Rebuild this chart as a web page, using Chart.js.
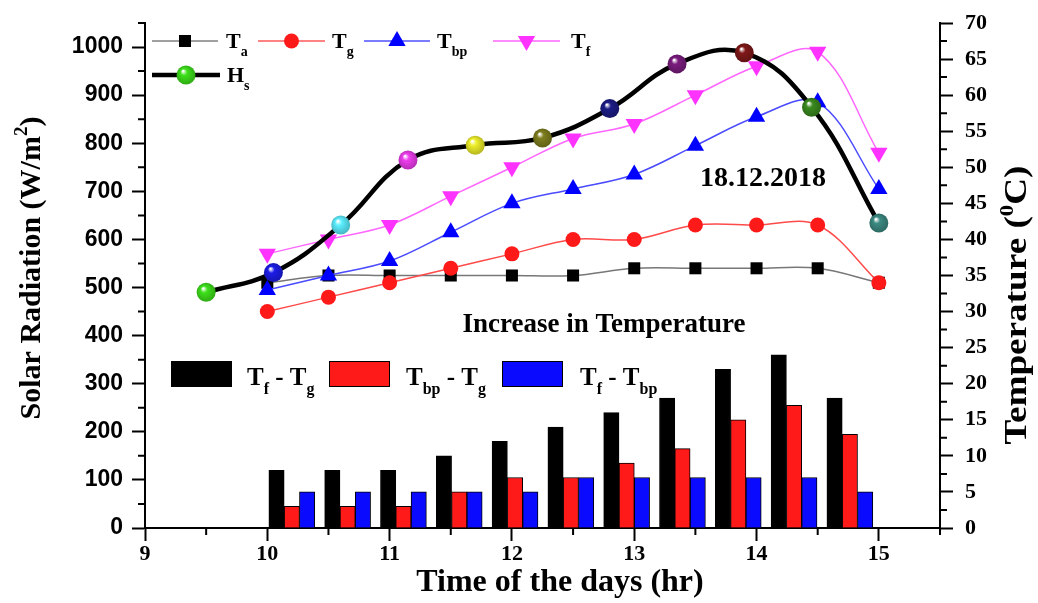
<!DOCTYPE html>
<html><head><meta charset="utf-8">
<script src="https://cdn.jsdelivr.net/npm/chart.js@4.4.1/dist/chart.umd.min.js"></script>
<style>html,body{margin:0;padding:0;background:#fff;overflow:hidden}#wrap{width:1038px;height:603px}</style>
</head><body><div id="wrap"><canvas id="c" width="1038" height="603"></canvas></div>
<script>
// ---- data ----
const times = [10, 10.5, 11, 11.5, 12, 12.5, 13, 13.5, 14, 14.5, 15];
const Ta  = [34, 35, 35, 35, 35, 35, 36, 36, 36, 36, 34];
const Tg  = [30, 32, 34, 36, 38, 40, 40, 42, 42, 42, 34];
const Tbp = [33, 35, 37, 41, 45, 47, 49, 53, 57, 59, 47];
const Tf  = [38, 40, 42, 46, 50, 54, 56, 60, 64, 66, 52];
const dTfTg  = [8, 8, 8, 10, 12, 14, 16, 18, 22, 24, 18];
const dTbpTg = [3, 3, 3, 5, 7, 7, 9, 11, 15, 17, 13];
const dTfTbp = [5, 5, 5, 5, 5, 7, 7, 7, 7, 7, 5];
const hsTimes = [9.5, 10.05, 10.6, 11.15, 11.7, 12.25, 12.8, 13.35, 13.9, 14.45, 15];
const Hs = [490, 531, 630, 765, 796, 811, 872, 965, 988, 875, 634];
const hsColors = ['#3de01a', '#1c1ce8', '#5ceeff', '#ee3cee', '#eeee2a', '#7e7e1e', '#1c1c86', '#7a1c7e', '#801818', '#3a8a1e', '#3c8a82'];
const xTicks = [9, 10, 11, 12, 13, 14, 15];
const yTicks = [0, 100, 200, 300, 400, 500, 600, 700, 800, 900, 1000];
const y2Ticks = [0, 5, 10, 15, 20, 25, 30, 35, 40, 45, 50, 55, 60, 65, 70];

const SERIF = '"Liberation Serif","Times New Roman",serif';
const SANS = '"Liberation Sans",Arial,sans-serif';

function darken(hex, f) {
  const n = parseInt(hex.slice(1), 16);
  const r = Math.round(((n >> 16) & 255) * f), g = Math.round(((n >> 8) & 255) * f), b = Math.round((n & 255) * f);
  return `rgb(${r},${g},${b})`;
}
function ballFill(c) {
  const base = hsColors[c.dataIndex];
  const ch = c.chart;
  if (!c.parsed || !ch.scales.x || !ch.scales.y) return base;
  const px = ch.scales.x.getPixelForValue(c.parsed.x), py = ch.scales.y.getPixelForValue(c.parsed.y);
  if (!isFinite(px) || !isFinite(py)) return base;
  const g = ch.ctx.createRadialGradient(px - 3, py - 4, 0.5, px, py, 10);
  g.addColorStop(0, '#ffffff');
  g.addColorStop(0.3, base);
  g.addColorStop(1, darken(base, 0.75));
  return g;
}

const xy = (xs, ys) => xs.map((x, i) => ({x, y: ys[i]}));

function rich(ctx, x, y, parts, size, align) {
  const sub = Math.round(size * 0.62);
  let total = 0;
  parts.forEach(p => { ctx.font = `bold ${p[1] ? sub : size}px ${SERIF}`; p.w = ctx.measureText(p[0]).width; total += p.w; });
  let cx = align === 'center' ? x - total / 2 : x;
  ctx.textAlign = 'left'; ctx.textBaseline = 'alphabetic';
  parts.forEach(p => {
    ctx.font = `bold ${p[1] ? sub : size}px ${SERIF}`;
    const dy = p[1] === 1 ? size * 0.36 : (p[1] === 2 ? -size * 0.42 : 0);
    ctx.fillText(p[0], cx, y + dy);
    cx += p.w;
  });
}

const deco = {
  id: 'deco',
  afterDraw(chart) {
    const ctx = chart.ctx, sx = chart.scales.x, sy = chart.scales.y, sy2 = chart.scales.y2;
    const ca = chart.chartArea;
    ctx.save();
    ctx.strokeStyle = '#000'; ctx.lineWidth = 2;
    // minor ticks
    ctx.beginPath();
    for (let v = 9.5; v <= 15.5; v += 1) { const p = sx.getPixelForValue(v); ctx.moveTo(p, ca.bottom); ctx.lineTo(p, ca.bottom + 7); }
    for (let v = 50; v <= 1050; v += 100) { const p = sy.getPixelForValue(v); ctx.moveTo(ca.left, p); ctx.lineTo(ca.left - 7, p); }
    for (let v = 2.5; v <= 70; v += 5) { const p = sy2.getPixelForValue(v); ctx.moveTo(ca.right, p); ctx.lineTo(ca.right + 7, p); }
    ctx.stroke();
    ctx.fillStyle = '#000';
    // axis titles
    ctx.save(); ctx.translate(40, 268); ctx.rotate(-Math.PI / 2);
    rich(ctx, 0, 0, [['Solar Radiation (W/m', 0], ['2', 2], [')', 0]], 30, 'center');
    ctx.restore();
    ctx.save(); ctx.translate(1026, 305); ctx.rotate(-Math.PI / 2); ctx.scale(1.2, 1);
    rich(ctx, 0, 0, [['Temperature (', 0], ['0', 2], ['C)', 0]], 31, 'center');
    ctx.restore();
    rich(ctx, 560, 591, [['Time of the days (hr)', 0]], 32, 'center');
    // annotations
    rich(ctx, 763, 186, [['18.12.2018', 0]], 28, 'center');
    rich(ctx, 604, 332, [['Increase in Temperature', 0]], 27, 'center');
    // top legend
    const drawP = Chart.helpers.drawPoint;
    const lg = [
      {x1: 152, x2: 218, y: 41, lc: '#808080', lw: 1.5, pt: {pointStyle: 'rect', radius: 8.5, rotation: 0, borderWidth: 0}, pc: '#000', tx: 226, parts: [['T', 0], ['a', 1]]},
      {x1: 258, x2: 325, y: 41, lc: '#ff5a5a', lw: 1.5, pt: {pointStyle: 'circle', radius: 7.5, rotation: 0, borderWidth: 0}, pc: '#ff1a1a', tx: 332, parts: [['T', 0], ['g', 1]]},
      {x1: 364, x2: 430, y: 41, lc: '#5050ff', lw: 1.5, pt: {pointStyle: 'triangle', radius: 10, rotation: 0, borderWidth: 0}, pc: '#0000ff', tx: 437, parts: [['T', 0], ['bp', 1]]},
      {x1: 493, x2: 560, y: 41, lc: '#ff66ff', lw: 1.5, pt: {pointStyle: 'triangle', radius: 10, rotation: 180, borderWidth: 0}, pc: '#ff33ff', tx: 571, parts: [['T', 0], ['f', 1]]}
    ];
    lg.forEach(l => {
      ctx.strokeStyle = l.lc; ctx.lineWidth = l.lw;
      ctx.beginPath(); ctx.moveTo(l.x1, l.y); ctx.lineTo(l.x2, l.y); ctx.stroke();
      ctx.fillStyle = l.pc; ctx.strokeStyle = l.pc;
      drawP(ctx, l.pt, (l.x1 + l.x2) / 2, l.y);
      ctx.fillStyle = '#000';
      rich(ctx, l.tx, 48, l.parts, 22, 'left');
    });
    ctx.strokeStyle = '#000'; ctx.lineWidth = 4.5;
    ctx.beginPath(); ctx.moveTo(152, 75); ctx.lineTo(220, 75); ctx.stroke();
    const g = ctx.createRadialGradient(183, 71, 0.5, 186, 75, 10);
    g.addColorStop(0, '#ffffff'); g.addColorStop(0.3, hsColors[0]); g.addColorStop(1, darken(hsColors[0], 0.75));
    ctx.fillStyle = g; ctx.beginPath(); ctx.arc(186, 75, 9.5, 0, Math.PI * 2); ctx.fill();
    ctx.fillStyle = '#000';
    rich(ctx, 227, 82, [['H', 0], ['s', 1]], 22, 'left');
    // bar legend
    const bl = [
      {x: 171, c: '#000000', tx: 247, parts: [['T', 0], ['f', 1], [' - ', 0], ['T', 0], ['g', 1]]},
      {x: 329, c: '#ff1a1a', tx: 406, parts: [['T', 0], ['bp', 1], [' - ', 0], ['T', 0], ['g', 1]]},
      {x: 502, c: '#0a0aff', tx: 580, parts: [['T', 0], ['f', 1], [' - ', 0], ['T', 0], ['bp', 1]]}
    ];
    bl.forEach(b => {
      ctx.fillStyle = b.c; ctx.fillRect(b.x, 361, 61, 26);
      ctx.strokeStyle = '#000'; ctx.lineWidth = 1; ctx.strokeRect(b.x + 0.5, 361.5, 60, 25);
      ctx.fillStyle = '#000';
      rich(ctx, b.tx, 385, b.parts, 25, 'left');
    });
    ctx.restore();
  }
};

const lineDs = (label, data, lc, pc, style, r, rot, order) => ({
  type: 'line', label, data: xy(times, data), xAxisID: 'x', yAxisID: 'y2',
  borderColor: lc, borderWidth: 1.5, tension: 0.35, fill: false,
  pointStyle: style, pointRadius: r, pointRotation: rot, pointBackgroundColor: pc, pointBorderColor: pc, pointBorderWidth: 0,
  order
});
const barDs = (label, data, c, order) => ({
  type: 'bar', label, data: xy(times, data), xAxisID: 'xb', yAxisID: 'y2',
  backgroundColor: c, borderColor: '#000', borderWidth: 1,
  barThickness: 15.3, order
});

new Chart(document.getElementById('c'), {
  type: 'bar',
  data: {
    datasets: [
      {type: 'line', label: 'Hs', data: xy(hsTimes, Hs), xAxisID: 'x', yAxisID: 'y',
       borderColor: '#000', borderWidth: 4.5, tension: 0.42, fill: false,
       pointStyle: 'circle', pointRadius: 9.5, pointBorderWidth: 0, pointBackgroundColor: ballFill, order: 0},
      lineDs('Tf', Tf, '#ff66ff', '#ff33ff', 'triangle', 10, 180, 1),
      lineDs('Tbp', Tbp, '#4a4aff', '#0000ff', 'triangle', 10, 0, 2),
      lineDs('Tg', Tg, '#ff4a4a', '#ff1a1a', 'circle', 7.5, 0, 3),
      lineDs('Ta', Ta, '#777777', '#000000', 'rect', 8.5, 0, 4),
      barDs('Tf - Tg', dTfTg, '#000000', 10),
      barDs('Tbp - Tg', dTbpTg, '#ff1a1a', 11),
      barDs('Tf - Tbp', dTfTbp, '#0a0aff', 12)
    ]
  },
  options: {
    responsive: false, animation: false, devicePixelRatio: 1,
    layout: {padding: {top: 17, left: 0, right: 0, bottom: 0}},
    plugins: {legend: {display: false}, tooltip: {enabled: false}},
    scales: {
      x: {type: 'linear', position: 'bottom', min: 9, max: 15.5, offset: false,
          afterBuildTicks: s => { s.ticks = xTicks.map(v => ({value: v})); },
          afterFit: s => { s.height = 75; },
          border: {display: true, color: '#000', width: 2},
          grid: {display: true, offset: false, drawOnChartArea: false, drawTicks: true, tickLength: 13, tickWidth: 2, tickColor: '#000'},
          ticks: {color: '#000', padding: 2, maxRotation: 0, callback: v => String(v), font: {family: SERIF, size: 22, weight: 'bold', lineHeight: 1}}},
      xb: {type: 'linear', display: false, offset: false, min: 8.616, max: 15.739,
          afterBuildTicks: s => { s.ticks = times.map(v => ({value: v})); },
          grid: {offset: false}},
      y: {type: 'linear', position: 'left', min: 0, max: 1050,
          afterBuildTicks: s => { s.ticks = yTicks.map(v => ({value: v})); },
          afterFit: s => { s.width = 145; },
          border: {display: true, color: '#000', width: 2},
          grid: {display: true, drawOnChartArea: false, drawTicks: true, tickLength: 13, tickWidth: 2, tickColor: '#000'},
          ticks: {color: '#000', padding: 9, callback: v => String(v), font: {family: SANS, size: 23, weight: 'bold', lineHeight: 1}}},
      y2: {type: 'linear', position: 'right', min: 0, max: 70,
          afterBuildTicks: s => { s.ticks = y2Ticks.map(v => ({value: v})); },
          afterFit: s => { s.width = 98; },
          border: {display: true, color: '#000', width: 2},
          grid: {display: true, drawOnChartArea: false, drawTicks: true, tickLength: 13, tickWidth: 2, tickColor: '#000'},
          ticks: {color: '#000', padding: 12, callback: v => String(v), font: {family: SERIF, size: 22, weight: 'bold', lineHeight: 1}}}
    }
  },
  plugins: [deco]
});
</script></body></html>
